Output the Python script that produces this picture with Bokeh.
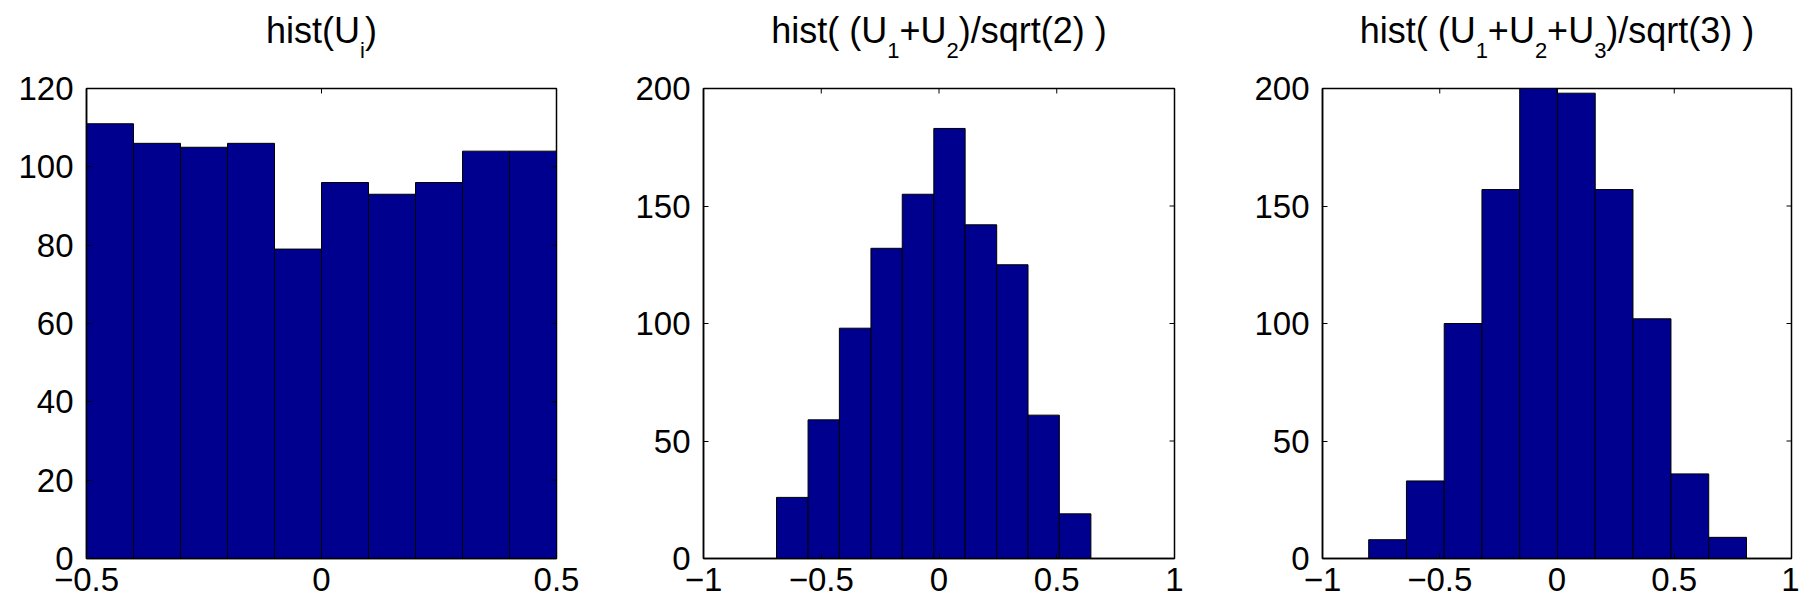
import math

from bokeh.plotting import figure
from bokeh.layouts import row, column
from bokeh.models import Range1d, FixedTicker, CustomJSTickFormatter
from bokeh.core.properties import value
from bokeh.embed import file_html
from bokeh.resources import INLINE

FONT = "Liberation Sans"
BAR_COLOR = "#00008F"

# ---- data -------------------------------------------------------------
# hist(U_i): 10 bins over [-0.5, 0.5]
u1_edges = [-0.5, -0.4, -0.3, -0.2, -0.1, 0.0, 0.1, 0.2, 0.3, 0.4, 0.5]
u1_counts = [111, 106, 105, 106, 79, 96, 93, 96, 104, 104]

# hist((U1+U2)/sqrt(2))
u2_edges = [-0.690, -0.556, -0.423, -0.289, -0.156, -0.022, 0.111, 0.245, 0.378, 0.511, 0.645]
u2_counts = [26, 59, 98, 132, 155, 183, 142, 125, 61, 19]

# hist((U1+U2+U3)/sqrt(3))
u3_edges = [-0.803, -0.642, -0.481, -0.320, -0.159, 0.002, 0.163, 0.324, 0.486, 0.647, 0.808]
u3_counts = [8, 33, 100, 157, 200, 198, 157, 102, 36, 9]

x_ticks_1 = [-0.5, 0, 0.5]
x_labels_1 = ["\u22120.5", "0", "0.5"]
x_ticks_23 = [-1, -0.5, 0, 0.5, 1]
x_labels_23 = ["\u22121", "\u22120.5", "0", "0.5", "1"]
y_ticks_1 = [0, 20, 40, 60, 80, 100, 120]
y_ticks_23 = [0, 50, 100, 150, 200]

# titles as (text, is_subscript) runs
title_1 = [("hist(U", False), ("i", True), (")", False)]
title_2 = [("hist( (U", False), ("1", True), ("+U", False), ("2", True), (")/sqrt(2) )", False)]
title_3 = [("hist( (U", False), ("1", True), ("+U", False), ("2", True),
           ("+U", False), ("3", True), (")/sqrt(3) )", False)]

# ---- styling ----------------------------------------------------------
TICK_FONT_SIZE = 33
TITLE_SIZE = 36
SUB_SIZE = 22
SUB_DROP = 20
FIG_H = 603
TITLE_H = 66          # height of the strip holding each title
TOP = 22              # room above the box for the top y tick label
BOTTOM = 45
TITLE_Y = 30          # anchor of the title line, from the top of the page
TICK_LEN = 5

# Helvetica/Arial advance widths (per 1000 em) for the title glyphs
ADV = {"h": 556, "i": 222, "s": 500, "t": 278, "(": 333, ")": 333, "U": 722,
       " ": 278, "+": 584, "/": 278, "q": 556, "r": 333,
       "1": 556, "2": 556, "3": 556}


def run_width(text, size):
    return sum(ADV.get(c, 556) for c in text) * size / 1000.0


def title_strip(runs, left, frame_w, right):
    # frame spans the same pixels as the panel box below; x is in pixels
    t = figure(width=left + frame_w + right, height=TITLE_H,
               x_range=Range1d(0, frame_w), y_range=Range1d(0, TITLE_H),
               output_backend="svg", toolbar_location=None,
               x_axis_location=None, y_axis_location=None,
               min_border_left=left, min_border_right=right,
               min_border_top=0, min_border_bottom=0)
    t.outline_line_color = None
    t.xgrid.visible = False
    t.ygrid.visible = False
    sizes = [SUB_SIZE if sub else TITLE_SIZE for _, sub in runs]
    total = sum(run_width(s_, z) for (s_, _), z in zip(runs, sizes))
    px = frame_w / 2.0 - total / 2.0
    base = TITLE_H - TITLE_Y
    xs, ys, texts, fs = [], [], [], []
    for (text, sub), size in zip(runs, sizes):
        xs.append(px)
        ys.append(base - (SUB_DROP if sub else 0))
        texts.append(text)
        fs.append(f"{size}px")
        px += run_width(text, size)
    t.text(x=xs, y=ys, text=texts, text_font_size=fs, text_font=value(FONT),
           text_color="black", text_align="left", text_baseline="alphabetic")
    return t


def panel(edges, counts, xr, yr, xticks, xlabels, yticks, left, frame_w, right):
    p = figure(width=left + frame_w + right, height=FIG_H - TITLE_H,
               x_range=Range1d(*xr), y_range=Range1d(*yr),
               output_backend="svg", toolbar_location=None,
               min_border_left=left, min_border_right=right,
               min_border_top=TOP, min_border_bottom=BOTTOM)
    p.xgrid.visible = False
    p.ygrid.visible = False
    p.outline_line_color = "black"
    p.outline_line_width = 1.5

    p.quad(left=edges[:-1], right=edges[1:], bottom=0, top=counts,
           fill_color=BAR_COLOR, line_color="black", line_width=1)

    # inward ticks on the top and right sides of the box
    p.ray(x=xticks, y=[yr[1]] * len(xticks), length=TICK_LEN, length_units="screen",
          angle=-math.pi / 2, line_color="black", line_width=1)
    p.ray(x=[xr[1]] * len(yticks), y=yticks, length=TICK_LEN, length_units="screen",
          angle=math.pi, line_color="black", line_width=1)

    fmt = CustomJSTickFormatter(args=dict(tick_vals=xticks, tick_text=xlabels),
                                code="const i = tick_vals.indexOf(tick); return i >= 0 ? tick_text[i] : '';")
    for ax in p.xaxis:
        ax.ticker = FixedTicker(ticks=xticks)
        ax.formatter = fmt
        ax.major_label_standoff = 9
    for ax in p.yaxis:
        ax.ticker = FixedTicker(ticks=yticks)
        ax.major_label_standoff = 13
    for ax in list(p.xaxis) + list(p.yaxis):
        ax.major_tick_in = TICK_LEN
        ax.major_tick_out = 0
        ax.minor_tick_line_color = None
        ax.axis_line_color = "black"
        ax.axis_line_width = 1.5
        ax.major_tick_line_color = "black"
        ax.major_label_text_font = FONT
        ax.major_label_text_font_size = f"{TICK_FONT_SIZE}px"
        ax.major_label_text_color = "black"
    return p


specs = [
    (u1_edges, u1_counts, (-0.5, 0.5), (0, 120), x_ticks_1, x_labels_1, y_ticks_1, title_1, 86, 470, 74),
    (u2_edges, u2_counts, (-1, 1), (0, 200), x_ticks_23, x_labels_23, y_ticks_23, title_2, 73, 471, 76),
    (u3_edges, u3_counts, (-1, 1), (0, 200), x_ticks_23, x_labels_23, y_ticks_23, title_3, 72, 469, 8),
]

cols = []
for edges, counts, xr, yr, xt, xl, yt, runs, left, fw, right in specs:
    cols.append(column(title_strip(runs, left, fw, right),
                       panel(edges, counts, xr, yr, xt, xl, yt, left, fw, right)))

layout = row(*cols)
open("out.html", "w").write(file_html(layout, INLINE))
